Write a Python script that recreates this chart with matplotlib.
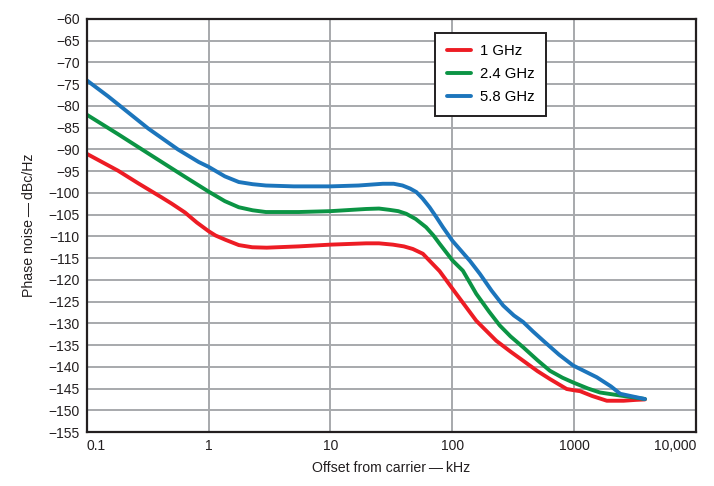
import matplotlib
matplotlib.use("Agg")
import matplotlib.pyplot as plt

plt.rcParams['font.family'] = ['Liberation Sans', 'DejaVu Sans']

# values (offset in kHz, phase noise in dBc/Hz)
f_1ghz = [0.1, 0.181, 0.265, 0.41, 0.5, 0.64, 0.8, 1.0, 1.14, 1.38, 1.77, 2.28, 3, 5.5, 10,
          19.6, 25, 32.5, 40, 47.4, 57.3, 65, 78.6, 100, 157, 229, 300, 381, 500, 631,
          867, 1000, 1117, 1400, 1850, 2536, 3200, 3800]
pn_1ghz = [-91.0, -94.9, -97.8, -101.0, -102.5, -104.5, -106.8, -108.8, -109.8, -110.8,
           -112.0, -112.5, -112.6, -112.3, -111.9, -111.6, -111.6, -111.9, -112.3, -112.9,
           -114.0, -115.6, -118.0, -122.0, -129.4, -134.0, -136.5, -138.6, -141.0, -142.8,
           -145.1, -145.4, -145.6, -146.7, -147.8, -147.8, -147.6, -147.5]

f_24ghz = [0.1, 0.181, 0.34, 0.64, 1.0, 1.36, 1.77, 2.3, 2.95, 5.5, 10, 19.6, 25, 30.5, 36,
           41.8, 50, 60.9, 70, 78.6, 100, 122, 157, 200, 245, 300, 381, 500, 631, 800, 980,
           1300, 1624, 2384, 3800]
pn_24ghz = [-82.0, -86.5, -91.4, -96.3, -99.7, -101.9, -103.3, -104.0, -104.4, -104.4,
            -104.2, -103.7, -103.6, -103.9, -104.2, -104.8, -106.0, -107.9, -109.8, -111.7,
            -115.5, -117.9, -123.2, -127.3, -130.5, -133.0, -135.5, -138.5, -140.9, -142.5,
            -143.6, -145.0, -145.9, -146.6, -147.4]

f_58ghz = [0.1, 0.15, 0.32, 0.56, 0.83, 1.0, 1.36, 1.77, 2.3, 2.95, 5, 10, 17, 26.9, 33,
           39, 45, 50.6, 57, 65, 74, 83.7, 100, 139, 168, 210, 261, 320, 381, 460, 557, 750,
           980, 1531, 2000, 2384, 3000, 3800]
pn_58ghz = [-74.1, -77.8, -85.2, -90.0, -92.9, -94.0, -96.2, -97.5, -98.0, -98.3, -98.5,
            -98.5, -98.3, -97.9, -97.9, -98.3, -99.0, -99.8, -101.3, -103.3, -105.6, -107.9,
            -111.0, -115.6, -118.6, -122.5, -125.9, -128.2, -129.7, -131.9, -134.0, -137.2,
            -139.7, -142.4, -144.5, -146.2, -146.8, -147.4]

x_ticks = [0.1, 1, 10, 100, 1000, 10000]
x_labels = ['0.1', '1', '10', '100', '1000', '10,000']
y_ticks = list(range(-155, -55, 5))

fig = plt.figure(figsize=(7.14, 4.86), dpi=100)
ax = fig.add_axes([0.1214, 0.111, 0.8536, 0.85])

ax.plot(f_1ghz, pn_1ghz, color='#ed1c24', lw=2.8, label='1 GHz',
        solid_capstyle='round', solid_joinstyle='round')
ax.plot(f_24ghz, pn_24ghz, color='#0b9444', lw=2.8, label='2.4 GHz',
        solid_capstyle='round', solid_joinstyle='round')
ax.plot(f_58ghz, pn_58ghz, color='#1c75bc', lw=2.8, label='5.8 GHz',
        solid_capstyle='round', solid_joinstyle='round')

ax.set_xscale('log')
ax.set_xlim(0.1, 10000)
ax.set_ylim(-155, -60)
ax.set_xticks(x_ticks)
ax.set_xticklabels(x_labels)
ax.xaxis.set_minor_locator(matplotlib.ticker.NullLocator())
ax.set_yticks(y_ticks)
ax.tick_params(length=0, labelsize=10, colors='#231f20', pad=5)
labels = ax.get_xticklabels()
labels[0].set_ha('left')
labels[-1].set_ha('right')

ax.grid(True, color='#a7a9ac', lw=1.4)
ax.set_axisbelow(True)
for s in ax.spines.values():
    s.set_linewidth(1.6)
    s.set_color('#231f20')
    s.set_zorder(5)

ax.set_xlabel('Offset from carrier\u2009\u2014\u2009kHz', fontsize=10.2, color='#231f20', labelpad=6)
ax.set_ylabel('Phase noise\u2009\u2014\u2009dBc/Hz', fontsize=10.2, color='#231f20', labelpad=9)

leg = ax.legend(loc='upper left', bbox_to_anchor=(0.5717, 0.967), fontsize=10.7,
                frameon=True, fancybox=False, handlelength=1.6, borderpad=0.8,
                labelspacing=0.6, handletextpad=0.6, borderaxespad=0)
leg.get_frame().set_edgecolor('#231f20')
leg.get_frame().set_linewidth(1.4)
leg.get_frame().set_alpha(1)

fig.savefig('out.png', dpi=100)
